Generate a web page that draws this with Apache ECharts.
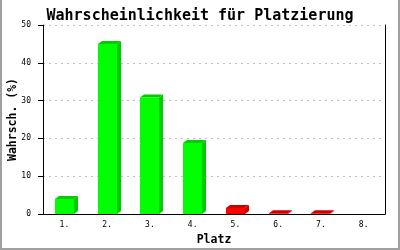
<!DOCTYPE html>
<html>
<head>
<meta charset="utf-8">
<script src="https://cdn.jsdelivr.net/npm/echarts@6/dist/echarts.min.js"></script>
<style>
html,body{margin:0;padding:0;background:#fff;}
#wrap{position:relative;width:400px;height:250px;}
#chart{width:400px;height:250px;}
#frame{position:absolute;left:0;top:0;width:400px;height:250px;box-sizing:border-box;border-left:2px solid #a0a0a0;border-right:2px solid #a0a0a0;border-bottom:2px solid #a0a0a0;pointer-events:none;}
</style>
</head>
<body>
<div id="wrap"><div id="chart"></div><div id="frame"></div></div>
<script>
const categories = ['1.', '2.', '3.', '4.', '5.', '6.', '7.', '8.'];
const values = [4.0, 45.0, 30.8, 18.8, 1.6, 0.2, 0.2, 0];
const yTicks = [0, 10, 20, 30, 40, 50];
const greenCount = 4;

const chart = echarts.init(document.getElementById('chart'), null, {renderer: 'canvas'});
const mono = '"DejaVu Sans Mono", "Liberation Mono", monospace';

function renderItem(params, api) {
  const idx = api.value(0);
  const val = api.value(1);
  if (!(val > 0)) return null;
  const top = api.coord([idx, val]);
  const base = api.coord([idx, 0]);
  const w = api.size([1, 0])[0] * 0.445;
  const dx = 4, dy = 3;
  const x0 = Math.round(top[0] - w / 2), x1 = Math.round(top[0] + w / 2);
  const yt = top[1], yb = base[1];
  const green = idx < greenCount;
  const front = green ? '#00ff00' : '#ff0000';
  const dark = green ? '#00cc00' : '#cc0000';
  return {
    type: 'group',
    children: [
      {type: 'polygon', shape: {points: [[x1, yb], [x1 + dx, yb - dy], [x1 + dx, yt - dy], [x1, yt]]}, style: {fill: dark}},
      {type: 'polygon', shape: {points: [[x0, yt], [x0 + dx, yt - dy], [x1 + dx, yt - dy], [x1, yt]]}, style: {fill: dark}},
      {type: 'rect', shape: {x: x0, y: yt, width: x1 - x0, height: yb - yt}, style: {fill: front}}
    ]
  };
}

chart.setOption({
  animation: false,
  title: {
    text: 'Wahrscheinlichkeit für Platzierung',
    left: 'center', top: 4,
    textStyle: {fontFamily: mono, fontWeight: 'bold', fontSize: 15, color: '#000'}
  },
  grid: {left: 43, right: 15, top: 25, bottom: 36, containLabel: false, outerBoundsMode: 'none'},
  xAxis: {
    type: 'category',
    data: categories,
    boundaryGap: true,
    name: 'Platz',
    nameLocation: 'middle',
    nameGap: 20,
    nameMoveOverlap: false,
    nameTextStyle: {fontFamily: mono, fontWeight: 'bold', fontSize: 11.5, color: '#000'},
    axisLine: {lineStyle: {color: '#000', width: 1}},
    axisTick: {show: false},
    axisLabel: {fontFamily: mono, fontSize: 8, color: '#000', margin: 7}
  },
  yAxis: [{
    type: 'value',
    min: yTicks[0], max: yTicks[yTicks.length - 1], interval: 10,
    name: 'Wahrsch. (%)',
    nameLocation: 'middle',
    nameGap: 24,
    nameMoveOverlap: false,
    nameTextStyle: {fontFamily: mono, fontWeight: 'bold', fontSize: 11.5, color: '#000'},
    axisLine: {show: true, lineStyle: {color: '#000', width: 1}},
    axisTick: {show: true, length: 5, lineStyle: {color: '#000'}},
    axisLabel: {fontFamily: mono, fontSize: 8, color: '#000', margin: 12},
    splitLine: {show: true, lineStyle: {color: '#c0c0c0', type: [2, 4]}}
  }, {
    type: 'value',
    position: 'right',
    min: yTicks[0], max: yTicks[yTicks.length - 1], interval: 10,
    axisLine: {show: true, lineStyle: {color: '#000', width: 1}},
    axisTick: {show: false},
    axisLabel: {show: false},
    splitLine: {show: false}
  }],
  series: [{
    type: 'custom',
    renderItem: renderItem,
    data: values.map((v, i) => [i, v]),
    encode: {x: 0, y: 1}
  }]
});
</script>
</body>
</html>
